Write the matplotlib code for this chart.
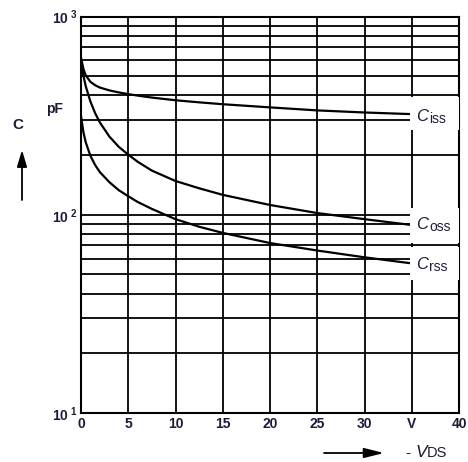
import matplotlib.pyplot as plt
from matplotlib.patches import Rectangle
from matplotlib.ticker import LogLocator, NullLocator, NullFormatter, FixedLocator

# data
vds = [0, 0.25, 0.5, 1, 1.5, 2, 3, 4, 5, 6, 7.5, 10, 12.5, 15, 20, 25, 30, 34.8]
c_iss = [620, 545, 505, 468, 450, 438, 424, 414, 406, 399, 390, 378, 369, 361, 348, 336, 328, 322]
c_oss = [600, 505, 445, 372, 325, 292, 248, 220, 201, 185, 167, 148, 136, 126, 112, 102, 95, 89]
c_rss = [315, 262, 232, 198, 178, 164, 146, 133, 124, 116, 107, 95, 87, 81, 72, 66, 61, 57]

x_ticks = [0, 5, 10, 15, 20, 25, 30, 35, 40]
x_labels = ["0", "5", "10", "15", "20", "25", "30", "V", "40"]
y_ticks = [10, 100, 1000]
y_labels = [r"$\mathregular{10^{\ 1}}$", r"$\mathregular{10^{\ 2}}$", r"$\mathregular{10^{\ 3}}$"]

curve_names = [("C", "iss"), ("C", "oss"), ("C", "rss")]
label_y = [313, 89, 56]
# white boxes behind the curve names (value ranges)
box_y = [(268, 393), (72.4, 108.5), (47, 68.5)]

txt = "#1c1c3a"
plt.rcParams["font.family"] = ["Liberation Sans", "DejaVu Sans"]

fig = plt.figure(figsize=(4.68, 4.62), dpi=100)
ax = fig.add_axes([81 / 468, 1 - 413 / 462, 378 / 468, 396.5 / 462])

ax.set_yscale("log")
ax.set_xlim(0, 40)
ax.set_ylim(10, 1000)

ax.xaxis.set_major_locator(FixedLocator(x_ticks))
ax.xaxis.set_minor_locator(NullLocator())
ax.set_xticklabels(x_labels)
ax.yaxis.set_major_locator(FixedLocator(y_ticks))
ax.yaxis.set_minor_locator(LogLocator(base=10, subs=range(2, 10)))
ax.yaxis.set_minor_formatter(NullFormatter())
ax.set_yticklabels(y_labels)

ax.tick_params(which="both", length=0, labelsize=10, labelcolor=txt, pad=3)
ax.tick_params(axis="y", pad=2)
for lab in ax.get_xticklabels() + ax.get_yticklabels():
    lab.set_fontweight("bold")

ax.grid(True, which="major", axis="x", color="black", lw=1.3)
ax.grid(True, which="both", axis="y", color="black", lw=1.3)
for s in ax.spines.values():
    s.set_linewidth(1.5)

ax.plot(vds, c_iss, color="black", lw=1.6, zorder=2)
ax.plot(vds, c_oss, color="black", lw=1.6, zorder=2)
ax.plot(vds, c_rss, color="black", lw=1.6, zorder=2)

for (big, small), y, (lo, hi) in zip(curve_names, label_y, box_y):
    ax.add_patch(Rectangle((34.8, lo), 5.2, hi - lo, facecolor="white",
                           edgecolor="none", zorder=3, clip_on=False))
    t = ax.text(35.5, y, big, fontsize=12, style="italic", color=txt,
                va="center", ha="left", zorder=4)
    ax.annotate(small, xy=(1, 0), xycoords=t, xytext=(0.5, -1.5),
                textcoords="offset points", fontsize=10, color=txt,
                va="bottom", ha="left", zorder=4)

# axis captions and arrows
fig.text(55 / 468, 1 - 109 / 462, "pF", fontsize=10, fontweight="bold", color=txt,
         ha="center", va="center")
fig.text(17.5 / 468, 1 - 125 / 462, "C", fontsize=11, fontweight="bold", color=txt,
         ha="center", va="center")
ax.annotate("", xy=(22 / 468, 1 - 150 / 462), xytext=(22 / 468, 1 - 200 / 462),
            xycoords="figure fraction",
            arrowprops=dict(arrowstyle="-|>,head_length=1.0,head_width=0.3",
                            color="black", lw=1.3, shrinkA=0, shrinkB=0))
ax.annotate("", xy=(384 / 468, 1 - 453 / 462), xytext=(324 / 468, 1 - 453 / 462),
            xycoords="figure fraction",
            arrowprops=dict(arrowstyle="-|>,head_length=1.2,head_width=0.3",
                            color="black", lw=1.3, shrinkA=0, shrinkB=0))
t1 = fig.text(406 / 468, 1 - 453 / 462, "- ", fontsize=11, color=txt, va="center")
t2 = ax.annotate("V", xy=(1, 0), xycoords=t1, fontsize=12.5, style="italic",
                 color=txt, va="bottom")
ax.annotate("DS", xy=(1, 0), xycoords=t2, fontsize=10.5, color=txt, va="bottom")

fig.savefig("out.png", dpi=100)
